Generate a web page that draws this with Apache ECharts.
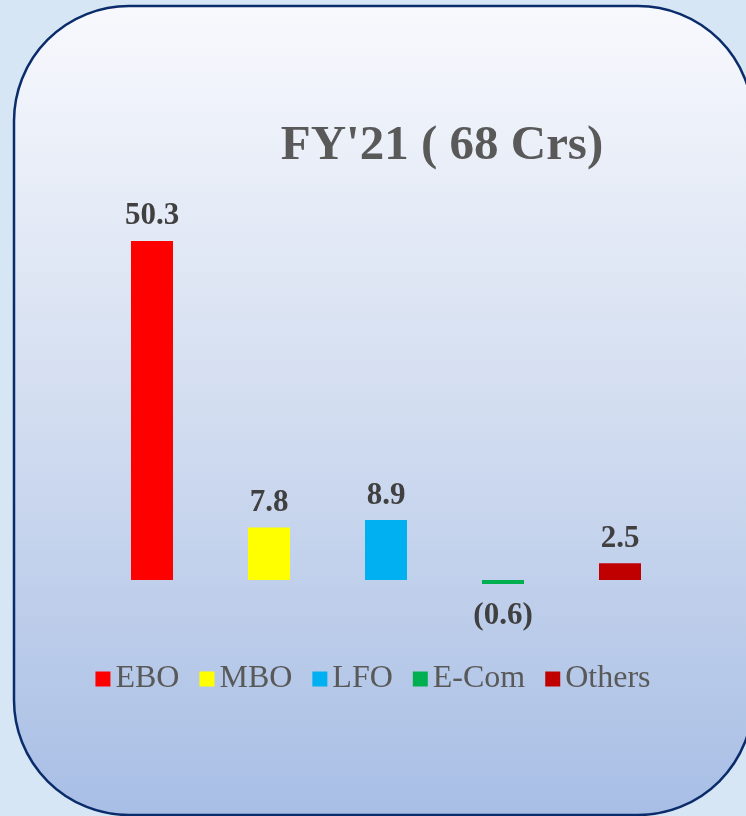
<!DOCTYPE html>
<html>
<head>
<meta charset="utf-8">
<script src="https://cdn.jsdelivr.net/npm/echarts@6/dist/echarts.min.js"></script>
<style>
html,body{margin:0;padding:0;background:#D6E6F4;}
#c{width:746px;height:816px;}
</style>
</head>
<body>
<div id="c"></div>
<script>
const categories = ['EBO', 'MBO', 'LFO', 'E-Com', 'Others'];
const values = [50.3, 7.8, 8.9, -0.6, 2.5];
const colors = ['#FF0000', '#FFFF00', '#00B0F0', '#00B050', '#C00000'];
const titleText = "FY'21 ( 68 Crs)";

const chart = echarts.init(document.getElementById('c'));
const series = categories.map((name, i) => ({
  name: name,
  type: 'bar',
  stack: 'all',
  barWidth: 42,
  itemStyle: { color: colors[i] },
  data: categories.map((_, j) => (j === i ? values[i] : '-')),
  label: {
    show: true,
    position: values[i] < 0 ? 'bottom' : 'top',
    distance: values[i] < 0 ? 16 : 9,
    fontFamily: 'Liberation Serif',
    fontWeight: 'bold',
    fontSize: 31,
    color: '#404040',
    formatter: p => (p.value < 0 ? '(' + Math.abs(p.value) + ')' : String(p.value))
  }
}));

chart.setOption({
  backgroundColor: '#D6E6F4',
  animation: false,
  graphic: [{
    type: 'rect',
    z: -10,
    shape: { x: 14, y: 6, width: 739, height: 809, r: 115 },
    style: {
      fill: new echarts.graphic.LinearGradient(0, 0, 0, 1, [
        { offset: 0, color: '#F8F9FD' },
        { offset: 0.5, color: '#D2DDF0' },
        { offset: 1, color: '#A8BEE5' }
      ]),
      stroke: '#0B2C6B',
      lineWidth: 2.5
    }
  }],
  title: {
    text: titleText,
    left: 437,
    top: 117,
    textAlign: 'center',
    textStyle: {
      fontFamily: 'Liberation Serif',
      fontWeight: 'bold',
      fontSize: 49,
      color: '#595959'
    }
  },
  legend: {
    data: categories,
    left: 'center',
    top: 658,
    itemWidth: 15,
    itemHeight: 15,
    itemGap: 20,
    icon: 'rect',
    textStyle: {
      fontFamily: 'Liberation Serif',
      fontSize: 32,
      color: '#595959'
    }
  },
  grid: { left: 93.5, width: 585, top: 209.3, height: 384.2 },
  xAxis: {
    type: 'category',
    data: categories,
    axisLine: { show: false },
    axisTick: { show: false },
    axisLabel: { show: false }
  },
  yAxis: {
    type: 'value',
    min: -2,
    max: 55,
    show: false,
    splitLine: { show: false }
  },
  series: series
});
</script>
</body>
</html>
